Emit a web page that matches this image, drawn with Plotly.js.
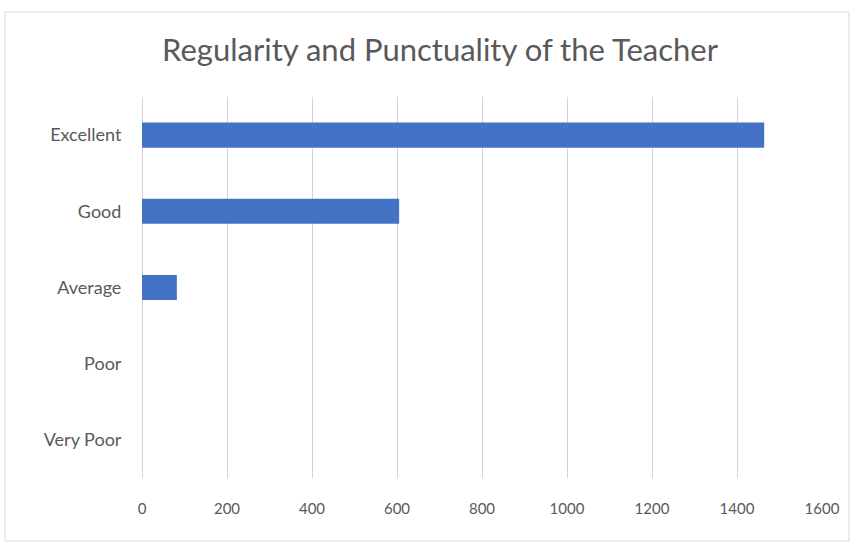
<!DOCTYPE html>
<html>
<head>
<meta charset="utf-8">
<script src="https://cdn.plot.ly/plotly-3.0.1.min.js"></script>
<style>html,body{margin:0;padding:0;background:#fff;}#chart{width:860px;height:545px;}</style>
</head>
<body>
<div id="chart"></div>
<script>
var categories = ["Excellent", "Good", "Average", "Poor", "Very Poor"];
var counts = [1464, 605, 82, 0, 0];
var xTicks = [0, 200, 400, 600, 800, 1000, 1200, 1400, 1600];

var W = 860, H = 545;
var m = {l: 142, r: 38, t: 97, b: 67};
var pw = W - m.l - m.r, ph = H - m.t - m.b;
function px(x) { return (x - m.l) / pw; }
function py(y) { return 1 - (y - m.t) / ph; }

var trace = {
  type: "bar",
  orientation: "h",
  y: categories,
  x: counts,
  marker: {color: "#4472c4"},
  hoverinfo: "x+y"
};

var layout = {
  width: W, height: H,
  margin: m,
  paper_bgcolor: "#ffffff",
  plot_bgcolor: "#ffffff",
  showlegend: false,
  bargap: 0.67,
  font: {family: "Lato, 'Open Sans', sans-serif", color: "#595959"},
  title: {
    text: "Regularity and Punctuality of the Teacher",
    font: {family: "Lato, 'Open Sans', sans-serif", size: 31, color: "#595959"},
    x: 440 / W, xref: "container", xanchor: "center",
    y: 1 - 50 / H, yref: "container", yanchor: "middle"
  },
  xaxis: {
    range: [0, 1600],
    tickvals: xTicks,
    ticktext: xTicks.map(String),
    showgrid: true,
    gridcolor: "#d4d4d4",
    gridwidth: 1,
    zeroline: true,
    zerolinecolor: "#d4d4d4",
    zerolinewidth: 1,
    showline: false,
    ticks: "outside",
    ticklen: 17,
    tickcolor: "rgba(0,0,0,0)",
    tickfont: {size: 15, color: "#595959"},
    fixedrange: true
  },
  yaxis: {
    categoryorder: "array",
    categoryarray: categories.slice().reverse(),
    autorange: true,
    showgrid: false,
    zeroline: false,
    showline: false,
    ticks: "outside",
    ticklen: 16,
    tickcolor: "rgba(0,0,0,0)",
    tickfont: {size: 18, color: "#595959"},
    fixedrange: true
  },
  shapes: [{
    type: "rect", xref: "paper", yref: "paper",
    x0: px(5), x1: px(849), y0: py(12), y1: py(541),
    line: {color: "#d9d9d9", width: 1},
    fillcolor: "rgba(0,0,0,0)",
    layer: "below"
  }]
};

Plotly.newPlot("chart", [trace], layout, {displayModeBar: false, staticPlot: true});
</script>
</body>
</html>
